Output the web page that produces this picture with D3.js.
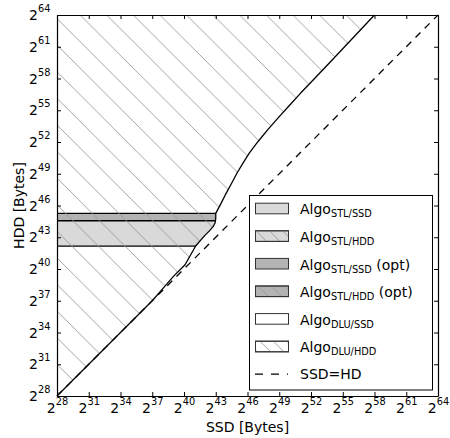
<!DOCTYPE html>
<html>
<head>
<meta charset="utf-8">
<script src="https://cdn.jsdelivr.net/npm/d3@7"></script>
<style>
  body { margin: 0; background: #fff; }
  svg { font-family: "DejaVu Sans", sans-serif; }
  text { white-space: pre; }
</style>
</head>
<body>
<svg id="chart" width="450" height="438"></svg>
<script>
// exponents (base 2)
const tickExps = [28, 31, 34, 37, 40, 43, 46, 49, 52, 55, 58, 61, 64];

// boundary of the STL/HDD region (SSD exponent, HDD exponent)
const boundarySsd = [28, 37, 38, 39, 40.1, 41.1, 41.6, 42.0, 42.4, 42.75, 42.95, 43, 43, 43.5, 43.9, 44.5, 45.0, 45.6, 46.2, 47.0, 47.9, 49, 50, 51, 52, 54, 58];
const boundaryHdd = [28, 37, 38.15, 39.3, 40.4, 42.17, 42.75, 43.2, 43.6, 44.0, 44.4, 44.8, 45.26, 46.2, 47.0, 48.1, 49.05, 50.05, 51.0, 52.05, 53.15, 54.4, 55.5, 56.6, 57.65, 59.75, 64];

// horizontal band for STL/SSD and its opt part
const bandSsd = [28, 43];
const bandHdd = [42.17, 44.56];
const bandOptHdd = [44.56, 45.26];

const legendSubs = ["STL/SSD", "STL/HDD", "STL/SSD", "STL/HDD", "DLU/SSD", "DLU/HDD"];
const legendOpt = [false, false, true, true, false, false];
const legendFill = ["#d9d9d9", "#d9d9d9", "#b3b3b3", "#b3b3b3", "#ffffff", "#ffffff"];
const legendHatch = [false, true, false, true, false, true];

const margin = {top: 15, right: 12, bottom: 42, left: 57};
const width = 450, height = 438;

const svg = d3.select("#chart");
const x = d3.scaleLog().base(2).domain([2 ** 28, 2 ** 64]).range([margin.left, width - margin.right]);
const y = d3.scaleLog().base(2).domain([2 ** 28, 2 ** 64]).range([height - margin.bottom, margin.top]);

const defs = svg.append("defs");
function hatch(id, s) {
    defs.append("pattern")
        .attr("id", id)
        .attr("patternUnits", "userSpaceOnUse")
        .attr("width", s).attr("height", s)
        .attr("patternTransform", "translate(0,14.7)")
        .append("path")
        .attr("d", `M-2,-2L${s + 2},${s + 2}M${s - 2},-2L${s + 2},2M-2,${s - 2}L2,${s + 2}`)
        .attr("stroke", "#999").attr("stroke-width", 0.9).attr("fill", "none");
}
hatch("hatch", 26.6);
hatch("hatchSmall", 13.3);

const boundary = boundarySsd.map((e, i) => [x(2 ** e), y(2 ** boundaryHdd[i])]);
const boundaryLine = d3.line();
const regionD = boundaryLine(boundary) + `L${x(2 ** 28)},${y(2 ** 64)}Z`;

defs.append("clipPath").attr("id", "regionClip")
    .append("path").attr("d", regionD);

// bands
const bands = svg.append("g").attr("clip-path", "url(#regionClip)");
[[bandHdd, "#d9d9d9"], [bandOptHdd, "#b3b3b3"]].forEach(([h, c]) => {
    bands.append("rect")
        .attr("x", x(2 ** bandSsd[0]))
        .attr("y", y(2 ** h[1]))
        .attr("width", x(2 ** bandSsd[1]) - x(2 ** bandSsd[0]) + 2)
        .attr("height", y(2 ** h[0]) - y(2 ** h[1]))
        .attr("fill", c);
});
[bandHdd[0], bandHdd[1], bandOptHdd[1]].forEach(h => {
    bands.append("line")
        .attr("x1", x(2 ** bandSsd[0])).attr("x2", x(2 ** bandSsd[1]) + 2)
        .attr("y1", y(2 ** h)).attr("y2", y(2 ** h))
        .attr("stroke", "#000").attr("stroke-width", 1.3);
});

// hatched region
svg.append("path")
    .attr("d", regionD)
    .attr("fill", "url(#hatch)");

// SSD = HDD
svg.append("line")
    .attr("x1", x(2 ** 28)).attr("y1", y(2 ** 28))
    .attr("x2", x(2 ** 64)).attr("y2", y(2 ** 64))
    .attr("stroke", "#000").attr("stroke-width", 1.3)
    .attr("stroke-dasharray", "7,6");

// boundary line
svg.append("path")
    .attr("d", boundaryLine(boundary))
    .attr("fill", "none").attr("stroke", "#000").attr("stroke-width", 1.3)
    .attr("stroke-linejoin", "round");

// axes
const tickVals = tickExps.map(e => 2 ** e);
const fmt = () => "2";

const xAxis = svg.append("g")
    .attr("transform", `translate(0,${y.range()[0]})`)
    .call(d3.axisBottom(x).tickValues(tickVals).tickSizeInner(-4).tickSizeOuter(0).tickFormat(fmt));
xAxis.selectAll(".tick text")
    .attr("y", 16.7).attr("dy", null)
    .attr("font-size", 14).attr("font-family", "DejaVu Sans")
    .append("tspan").attr("dy", -7.7).attr("font-size", 9.8)
    .text((d, i) => tickExps[i]);

const yAxis = svg.append("g")
    .attr("transform", `translate(${x.range()[0]},0)`)
    .call(d3.axisLeft(y).tickValues(tickVals).tickSizeInner(-4).tickSizeOuter(0).tickFormat(fmt));
yAxis.selectAll(".tick text")
    .attr("x", -6.5).attr("y", 4.7).attr("dy", null)
    .attr("font-size", 14).attr("font-family", "DejaVu Sans")
    .append("tspan").attr("dy", -8).attr("font-size", 9.8)
    .text((d, i) => tickExps[i]);

svg.append("g")
    .attr("transform", `translate(0,${y.range()[1]})`)
    .call(d3.axisTop(x).tickValues(tickVals).tickSizeInner(-4).tickSizeOuter(0).tickFormat(""));
svg.append("g")
    .attr("transform", `translate(${x.range()[1]},0)`)
    .call(d3.axisRight(y).tickValues(tickVals).tickSizeInner(-4).tickSizeOuter(0).tickFormat(""));

svg.selectAll(".domain").attr("stroke", "#000").attr("stroke-width", 1.2);
svg.selectAll(".tick line").attr("stroke", "#000").attr("stroke-width", 1);

// axis titles
svg.append("text")
    .attr("x", (x.range()[0] + x.range()[1]) / 2).attr("y", 432)
    .attr("text-anchor", "middle").attr("font-size", 14)
    .text("SSD [Bytes]");
svg.append("text")
    .attr("transform", `translate(24,${(y.range()[0] + y.range()[1]) / 2}) rotate(-90)`)
    .attr("text-anchor", "middle").attr("font-size", 14)
    .text("HDD [Bytes]");

// legend
const lg = svg.append("g");
lg.append("rect")
    .attr("x", 249.5).attr("y", 195.5).attr("width", 183).attr("height", 194.5)
    .attr("fill", "#fff").attr("stroke", "#000").attr("stroke-width", 1);

const rowY = i => 208.5 + 27.6 * i;
legendSubs.forEach((sub, i) => {
    const cy = rowY(i);
    lg.append("rect")
        .attr("x", 255.5).attr("y", cy - 5.3).attr("width", 33).attr("height", 10.6)
        .attr("fill", legendFill[i]).attr("stroke", "#333").attr("stroke-width", 1);
    if (legendHatch[i]) {
        lg.append("rect")
            .attr("x", 255.5).attr("y", cy - 5.3).attr("width", 33).attr("height", 10.6)
            .attr("fill", "url(#hatchSmall)").attr("stroke", "#333").attr("stroke-width", 1);
    }
    const t = lg.append("text")
        .attr("x", 300).attr("y", cy + 5.8).attr("font-size", 14);
    t.append("tspan").text("Algo");
    t.append("tspan").attr("dy", 3).attr("font-size", 9.8).text(sub);
    if (legendOpt[i]) t.append("tspan").attr("dy", -3).attr("font-size", 14).text(" (opt)");
});
const dy = rowY(6);
lg.append("line")
    .attr("x1", 255).attr("x2", 288).attr("y1", dy).attr("y2", dy)
    .attr("stroke", "#000").attr("stroke-width", 1.3).attr("stroke-dasharray", "8,8");
lg.append("text")
    .attr("x", 300).attr("y", dy + 5.3).attr("font-size", 14)
    .text("SSD=HD");
</script>
</body>
</html>
